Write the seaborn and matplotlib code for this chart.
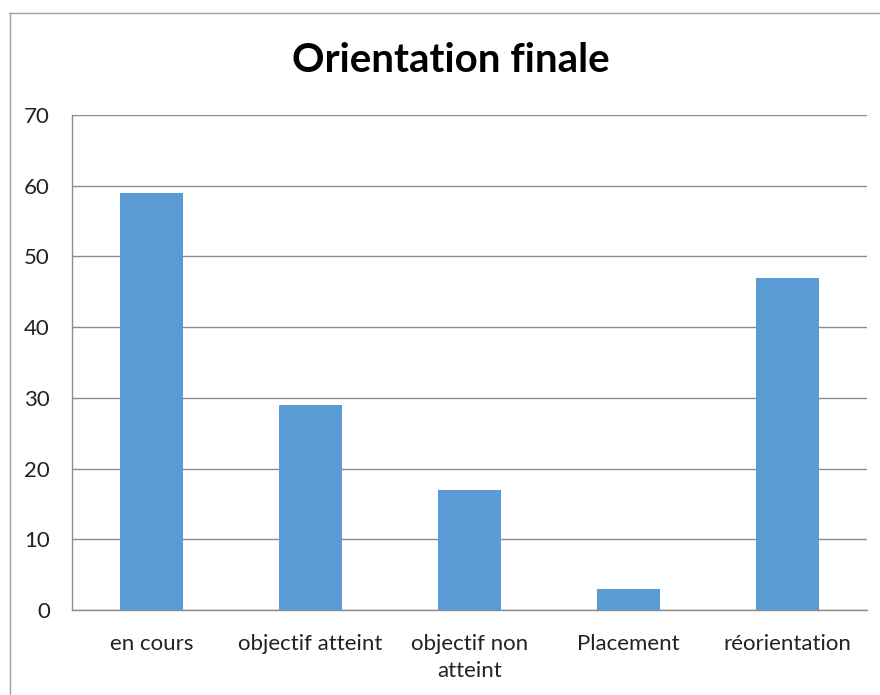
import pandas as pd
import matplotlib
matplotlib.use("Agg")
import matplotlib.pyplot as plt
from matplotlib.lines import Line2D
import seaborn as sns

# --- data ---
categories = ["en cours", "objectif atteint", "objectif non\natteint", "Placement", "réorientation"]
values = [59, 29, 17, 3, 47]
yticks = [0, 10, 20, 30, 40, 50, 60, 70]

df = pd.DataFrame({"cat": categories, "val": values})

sns.set_theme(style="white")
plt.rcParams["font.family"] = ["Lato", "DejaVu Sans"]

W, H = 880, 695
fig = plt.figure(figsize=(W / 100, H / 100), dpi=100)
ax = fig.add_axes([72 / W, 1 - 610 / H, (867 - 72) / W, (610 - 115) / H])

sns.barplot(data=df, x="cat", y="val", color="#5B9BD5", width=0.4,
            saturation=1, linewidth=0, ax=ax, zorder=3)

ax.set_ylim(0, 70)
ax.set_yticks(yticks)
ax.set_xlim(-0.5, len(categories) - 0.5)
ax.yaxis.grid(True, color="#8C8C8C", linewidth=1, zorder=0)
ax.set_axisbelow(True)
ax.set_xlabel("")
ax.set_ylabel("")
for side in ["top", "right"]:
    ax.spines[side].set_visible(False)
for side in ["left", "bottom"]:
    ax.spines[side].set_color("#8C8C8C")
    ax.spines[side].set_linewidth(1)
ax.tick_params(axis="both", length=0, labelsize=16, colors="#222222")
ax.tick_params(axis="y", pad=16)
ax.tick_params(axis="x", pad=17)
for lab in ax.get_xticklabels():
    lab.set_linespacing(1.45)

fig.text(451 / W, 1 - 60 / H, "Orientation finale", ha="center", va="center",
         fontsize=29, fontweight="bold", color="black")

# outer chart frame (right/bottom edges fall outside the image)
fig.add_artist(Line2D([9 / W, 1], [1 - 12.5 / H, 1 - 12.5 / H], color="#A0A0A0", linewidth=1))
fig.add_artist(Line2D([9.5 / W, 9.5 / W], [0, 1 - 12.5 / H], color="#A0A0A0", linewidth=1))

fig.savefig("out.png", dpi=100)
